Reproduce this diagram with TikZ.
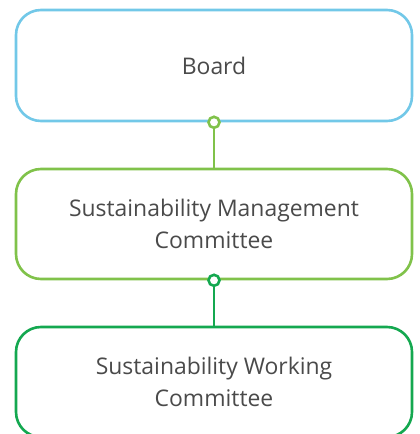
\documentclass[tikz,border=0pt]{standalone}
\usepackage{fontspec}
\setmainfont{Open Sans}
\definecolor{boardblue}{HTML}{72C8E8}
\definecolor{lightgreen}{HTML}{80C24A}
\definecolor{darkgreen}{HTML}{14A850}
\definecolor{textgray}{HTML}{4A4A4A}

\begin{document}
\begin{tikzpicture}[x=1bp, y=-1bp,
    unit/.style={draw=#1, line width=2.6bp, rounded corners=25bp, fill=white,
      minimum width=396bp, minimum height=110bp, align=center,
      text=textgray, font=\fontsize{23}{32}\selectfont},
    joint/.style={line width=2.6bp}]

  \useasboundingbox (0, 0) rectangle (419, 434);
  \clip (0, 0) rectangle (419, 434);

  \node[unit=boardblue, minimum height=111bp] (board) at (214, 65.5) {Board};
  \node[unit=lightgreen] (mgmt) at (214, 224) {Sustainability Management\\Committee};
  \node[unit=darkgreen] (work) at (214, 382) {Sustainability Working\\Committee};

  \draw[joint, lightgreen] (board.south) -- (mgmt.north);
  \draw[joint, darkgreen] (mgmt.south) -- (work.north);

  \filldraw[joint, draw=lightgreen, fill=white] (board.south) circle (5.5);
  \filldraw[joint, draw=darkgreen, fill=white] (mgmt.south) circle (5.5);

\end{tikzpicture}
\end{document}
